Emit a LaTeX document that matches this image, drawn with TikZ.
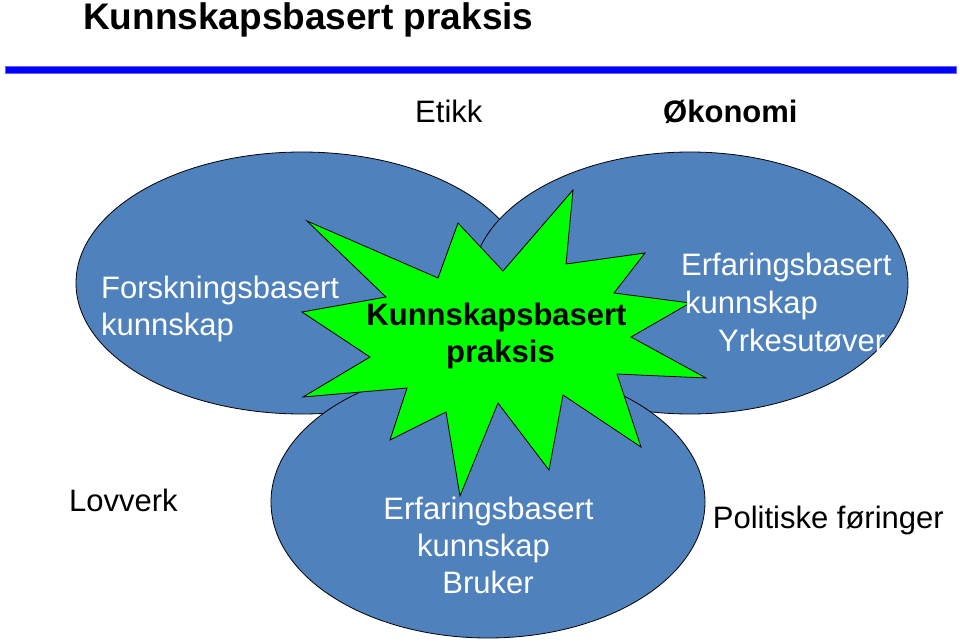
\documentclass[tikz,border=0pt]{standalone}
\usepackage{fontspec}
\setmainfont{Liberation Sans}
\definecolor{ellblue}{HTML}{4F81BD}
\definecolor{stargreen}{HTML}{00FF00}
\definecolor{barblue}{HTML}{0000FF}
\tikzset{
  ell/.style={fill=ellblue,draw=black,line width=0.8pt},
  starshape/.style={fill=stargreen,draw=black,line width=0.8pt,line join=miter},
  lbl/.style={inner sep=0pt,anchor=base west,font=\fontsize{31}{37}\selectfont},
  wlbl/.style={lbl,text=white},
  blbl/.style={lbl,font=\fontsize{31}{37}\selectfont\bfseries},
}
\begin{document}
\begin{tikzpicture}[x=1pt,y=-1pt]
\useasboundingbox (0,0) rectangle (960,642);
% title
\node[inner sep=0pt,anchor=base west,font=\fontsize{37}{44}\selectfont\bfseries] (title) at (83,30) {Kunnskapsbasert praksis};
% bar
\fill[barblue,draw=barblue!60] (5,66) rectangle (956,73);
% top labels
\node[lbl] (etikk) at (415,122.7) {Etikk};
\node[blbl] (okonomi) at (663,122.7) {Økonomi};
% ellipses
\draw[ell] (302,283) ellipse [x radius=226pt, y radius=131pt];
\draw[ell] (690,283) ellipse [x radius=218pt, y radius=131pt];
\draw[ell] (488,502) ellipse [x radius=217pt, y radius=136pt];
% star
\draw[starshape] (307,221) -- (438,278) -- (458,223) -- (503,271) -- (573,190) -- (566,264)
  -- (645,253) -- (614,293) -- (690,303) -- (631,337) -- (706,378) -- (617,374)
  -- (641,447) -- (563,395) -- (549,470) -- (498,403) -- (460,496) -- (446,412)
  -- (390,440) -- (407,388) -- (303,397) -- (370,357) -- (302,312) -- (386,297) -- cycle;
% ellipse texts
\node[wlbl] (fb1) at (101,298.3) {Forskningsbasert};
\node[wlbl] (fb2) at (101,335) {kunnskap};
\node[wlbl] (ey1) at (681,275) {Erfaringsbasert};
\node[wlbl] (ey2) at (685,313) {kunnskap};
\node[wlbl] (ey3) at (718,351.7) {Yrkesutøver};
\node[wlbl,anchor=base] (eb1) at (488.5,519.3) {Erfaringsbasert};
\node[wlbl,anchor=base] (eb2) at (483.5,556) {kunnskap};
\node[wlbl,anchor=base] (eb3) at (488,593) {Bruker};
% star text
\node[blbl,anchor=base] (kp1) at (496.5,325.7) {Kunnskapsbasert};
\node[blbl,anchor=base] (kp2) at (500.5,362.7) {praksis};
% bottom labels
\node[lbl] (lov) at (69,511.7) {Lovverk};
\node[lbl] (pol) at (712.7,528.3) {Politiske føringer};
\end{tikzpicture}
\end{document}
